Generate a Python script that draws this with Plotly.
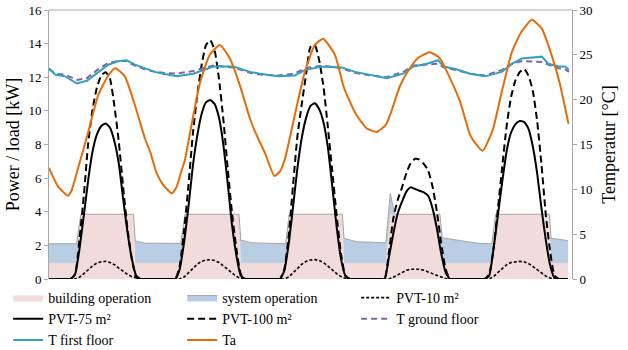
import plotly.graph_objects as go

# ---------------- data ----------------
hours = list(range(120))

pvt_10 = [0, 0, 0, 0, 0, 0, 0, 0.1, 0.3, 0.55, 0.78, 0.95, 1.03, 1.05, 0.98, 0.85, 0.65, 0.45, 0.28, 0.14, 0.05, 0, 0, 0,
          0, 0, 0, 0, 0, 0, 0, 0.12, 0.35, 0.62, 0.88, 1.05, 1.13, 1.15, 1.1, 0.98, 0.78, 0.55, 0.33, 0.15, 0.04, 0, 0, 0,
          0, 0, 0, 0, 0, 0, 0, 0.12, 0.35, 0.62, 0.88, 1.05, 1.13, 1.15, 1.1, 0.97, 0.77, 0.54, 0.32, 0.14, 0.03, 0, 0, 0,
          0, 0, 0, 0, 0, 0, 0, 0.1, 0.25, 0.4, 0.52, 0.58, 0.6, 0.58, 0.52, 0.42, 0.3, 0.18, 0.08, 0.02, 0, 0, 0, 0,
          0, 0, 0, 0, 0, 0, 0.15, 0.38, 0.62, 0.85, 0.98, 1.03, 1.05, 1.02, 0.92, 0.75, 0.55, 0.35, 0.17, 0.05, 0, 0, 0, 0]

pvt_75 = [0, 0, 0, 0, 0, 0, 0.3, 1.8, 3.8, 5.9, 7.6, 8.6, 9.1, 9.25, 9.0, 8.2, 6.9, 4.8, 2.8, 1.2, 0.2, 0, 0, 0,
          0, 0, 0, 0, 0, 0, 0.6, 2.2, 4.3, 6.7, 8.5, 9.8, 10.5, 10.65, 10.4, 9.6, 8.0, 5.7, 3.2, 1.4, 0.2, 0, 0, 0,
          0, 0, 0, 0, 0, 0, 0.5, 2.1, 4.3, 6.6, 8.4, 9.6, 10.3, 10.45, 10.1, 9.3, 7.8, 5.5, 3.1, 1.2, 0.2, 0, 0, 0,
          0, 0, 0, 0, 0, 0, 1.3, 2.7, 3.9, 4.6, 5.2, 5.45, 5.35, 5.25, 5.15, 4.95, 4.2, 3.0, 1.5, 0.4, 0, 0, 0, 0,
          0, 0, 0, 0, 0, 0.2, 1.8, 3.8, 5.8, 7.6, 8.7, 9.2, 9.4, 9.35, 8.95, 7.9, 6.3, 4.2, 2.3, 0.8, 0.05, 0, 0, 0]

pvt_100 = [0, 0, 0, 0, 0, 0, 0.3, 2.4, 5.0, 8.1, 10.1, 11.4, 12.1, 12.3, 11.9, 10.3, 8.2, 5.5, 3.0, 1.2, 0.1, 0, 0, 0,
           0, 0, 0, 0, 0, 0, 0.8, 2.9, 5.6, 8.6, 10.9, 12.7, 13.9, 14.2, 13.6, 11.9, 9.5, 6.6, 3.9, 1.8, 0.3, 0, 0, 0,
           0, 0, 0, 0, 0, 0, 0.6, 2.6, 5.6, 8.5, 10.4, 12.2, 13.8, 13.9, 13.0, 11.4, 9.0, 6.4, 3.8, 1.5, 0.2, 0, 0, 0,
           0, 0, 0, 0, 0, 0, 1.6, 3.6, 4.7, 5.45, 6.3, 6.9, 7.15, 7.1, 6.85, 6.45, 5.5, 4.0, 2.1, 0.6, 0, 0, 0, 0,
           0, 0, 0, 0, 0, 0.3, 1.8, 4.2, 6.7, 9.1, 10.8, 11.8, 12.3, 12.5, 12.1, 11.2, 9.4, 6.8, 3.8, 1.6, 0.2, 0, 0, 0]

op_hours = [0, 6.3, 7.3, 19.4, 19.8, 22.0, 30.2, 31.2, 43.6, 44.0, 46.5, 54.3, 55.1, 67.3, 67.7,
            70.5, 77.3, 78.3, 79.3, 89.7, 90.2, 93.0, 96.5, 98.5, 101.6, 102.5, 114.8, 115.2, 117.0, 119.1]
building_op = [0.95, 0.95, 3.85, 3.85, 0.95, 0.95, 0.95, 3.85, 3.85, 0.95, 0.95, 0.95, 3.85, 3.85, 0.95,
               0.95, 0.95, 3.85, 3.85, 3.85, 0.95, 0.95, 0.95, 0.95, 0.95, 3.85, 3.85, 0.95, 0.95, 0.95]
system_op = [1.15, 1.15, 0, 0, 1.31, 1.18, 1.17, 0, 0, 1.37, 1.2, 1.15, 0, 0, 1.47,
             1.27, 1.2, 1.25, 0, 0, 1.5, 1.38, 1.23, 1.17, 1.15, 0, 0, 1.47, 1.41, 1.33]

ta_hours = [0, 2.1, 4.4, 5.2, 6.7, 9.0, 11.3, 13.6, 15.2, 17.4, 19.7, 22.0, 23.2, 24.7, 26.2,
            28.2, 29.3, 30.1, 31.2, 32.4, 34.6, 36.9, 39.2, 41.5, 43.8, 46.1, 47.3, 49.6, 51.7, 53.0,
            54.2, 56.4, 58.7, 61.0, 62.9, 65.6, 67.7, 70.4, 72.9, 75.2, 77.3, 78.5, 80.5, 82.8, 84.8,
            87.4, 89.7, 92.0, 94.3, 96.6, 97.6, 99.5, 101.8, 103.9, 106.2, 108.3, 110.8, 113.1, 115.3, 117.2, 119.2]
ta = [12.4, 10.3, 9.3, 9.9, 12.4, 16.4, 20.5, 22.7, 23.5, 22.6, 19.4, 15.7, 14.2, 11.8, 10.5,
      9.55, 10.3, 11.6, 13.3, 16.4, 21.8, 25.0, 26.1, 24.6, 21.6, 17.9, 16.4, 14.0, 11.5, 12.0,
      13.5, 18.3, 23.1, 26.1, 26.8, 25.0, 21.3, 18.4, 16.8, 16.4, 17.2, 18.6, 21.5, 23.5, 24.7,
      25.3, 24.6, 22.4, 19.8, 16.1, 15.3, 14.3, 16.6, 20.9, 25.3, 27.5, 28.9, 27.9, 25.0, 21.8, 17.3]

tin_hours = [0, 1.4, 3.7, 6.4, 8.7, 11.3, 13.6, 15.9, 17.8, 19.7, 22.0, 24.3, 26.2, 29.3, 33.1,
             35.4, 37.7, 42.3, 46.1, 48.4, 52.6, 56.4, 58.7, 62.6, 67.2, 70.2, 72.5, 77.5, 81.3, 83.6,
             86.7, 89.3, 90.5, 93.5, 96.6, 100.0, 103.9, 106.2, 108.5, 113.1, 114.6, 116.9, 118.4, 119.3]
t_first = [23.5, 22.8, 22.6, 21.8, 22.1, 23.1, 23.9, 24.3, 24.4, 23.9, 23.5, 23.1, 22.9, 22.6, 22.9,
           23.3, 23.7, 23.7, 23.1, 22.9, 22.6, 22.7, 23.3, 23.7, 23.6, 23.1, 22.9, 22.4, 22.9, 23.7,
           24.0, 24.4, 23.7, 23.4, 22.9, 22.6, 23.1, 24.0, 24.6, 24.8, 24.0, 23.7, 23.7, 23.3]
t_ground = [23.4, 22.9, 22.8, 22.2, 22.4, 23.4, 24.1, 24.3, 24.3, 23.8, 23.4, 23.1, 23.0, 22.9, 23.2,
            23.5, 23.8, 23.6, 23.0, 22.8, 22.7, 22.9, 23.5, 23.8, 23.5, 23.0, 22.8, 22.5, 23.1, 23.8,
            23.9, 24.0, 23.6, 23.3, 22.9, 22.7, 23.3, 24.0, 24.3, 24.2, 23.9, 23.5, 23.4, 23.1]

left_ticks = [0, 2, 4, 6, 8, 10, 12, 14, 16]
right_ticks = [0, 5, 10, 15, 20, 25, 30]

# ---------------- figure ----------------
FONT = "Liberation Serif, Times New Roman, serif"
GRAY = "#A6A6A6"

fig = go.Figure()

fig.add_trace(go.Scatter(x=op_hours, y=building_op, name="building operation", stackgroup="op",
                         mode="lines", line=dict(width=0, color="#F2DCDB"), fillcolor="#F2DCDB",
                         legendrank=1))
fig.add_trace(go.Scatter(x=op_hours, y=system_op, name="system operation", stackgroup="op",
                         mode="lines", line=dict(width=1, color=GRAY), fillcolor="#B9CDE5",
                         legendrank=2))
fig.add_trace(go.Scatter(x=hours, y=pvt_10, name="PVT-10 m²", mode="lines",
                         line=dict(color="black", width=1.6, dash="3px,2px"), legendrank=3))
fig.add_trace(go.Scatter(x=hours, y=pvt_75, name="PVT-75 m²", mode="lines",
                         line=dict(color="black", width=2, shape="spline", smoothing=0.5), legendrank=4))
fig.add_trace(go.Scatter(x=hours, y=pvt_100, name="PVT-100 m²", mode="lines",
                         line=dict(color="black", width=2, dash="7px,4px", shape="spline", smoothing=0.5),
                         legendrank=5))
fig.add_trace(go.Scatter(x=tin_hours, y=t_ground, name="T ground floor", mode="lines", yaxis="y2",
                         line=dict(color="#8064A2", width=2, dash="6px,4px"), legendrank=6))
fig.add_trace(go.Scatter(x=tin_hours, y=t_first, name="T first floor", mode="lines", yaxis="y2",
                         line=dict(color="#31A0C2", width=2), legendrank=7))
fig.add_trace(go.Scatter(x=ta_hours, y=ta, name="Ta", mode="lines", yaxis="y2",
                         line=dict(color="#E46C0A", width=2, shape="spline", smoothing=0.5),
                         legendrank=8))

fig.update_layout(
    width=628, height=350,
    margin=dict(l=49, r=56, t=10, b=71, autoexpand=False),
    paper_bgcolor="white", plot_bgcolor="white",
    font=dict(family=FONT, color="black", size=13),
    showlegend=True,
    legend=dict(orientation="h", xref="container", yref="container", x=0.013, y=1 - 282 / 350,
                xanchor="left", yanchor="top", entrywidth=129, entrywidthmode="pixels",
                font=dict(family=FONT, size=14, color="black"), itemwidth=30,
                traceorder="normal", bgcolor="rgba(0,0,0,0)", tracegroupgap=0),
    xaxis=dict(range=[0, 120], showticklabels=False, ticks="", showgrid=False,
               zeroline=False, showline=False),
    yaxis=dict(range=[0, 16], tickvals=left_ticks, ticks="outside", ticklen=4, tickcolor=GRAY,
               showline=True, linecolor=GRAY, linewidth=1, showgrid=False, zeroline=False,
               automargin=False, tickfont=dict(family=FONT, size=13),
               title=dict(text="Power / load [kW]", font=dict(family=FONT, size=18), standoff=4)),
    yaxis2=dict(range=[0, 30], tickvals=right_ticks, overlaying="y", side="right",
                ticks="outside", ticklen=4, tickcolor=GRAY, automargin=False,
                showline=True, linecolor=GRAY, linewidth=1, showgrid=False, zeroline=False,
                tickfont=dict(family=FONT, size=13),
                title=dict(text="Temperatur [°C]", font=dict(family=FONT, size=18), standoff=10)),
)

fig.add_shape(type="line", xref="paper", yref="paper", x0=0, x1=1, y0=1, y1=1,
              line=dict(color=GRAY, width=1))

fig.write_html("out.html")
